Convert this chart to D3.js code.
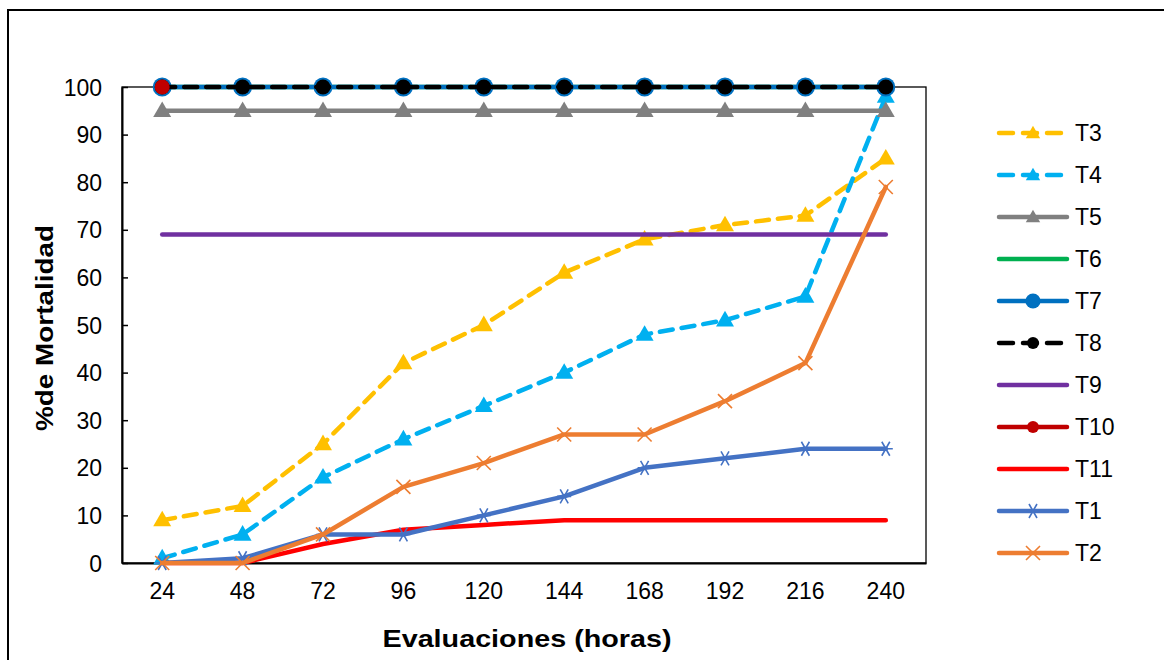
<!DOCTYPE html>
<html>
<head>
<meta charset="utf-8">
<script src="https://cdn.jsdelivr.net/npm/d3@7"></script>
<style>
  body { margin: 0; background: #fff; }
  text { font-family: "Liberation Sans", Arial, sans-serif; }
</style>
</head>
<body>
<div id="chart"></div>
<script>
var horas = ['24', '48', '72', '96', '120', '144', '168', '192', '216', '240'];
var yTicks = [0, 10, 20, 30, 40, 50, 60, 70, 80, 90, 100];

var t3  = [9, 12, 25, 42, 50, 61, 68, 71, 73, 85];
var t4  = [1, 6, 18, 26, 33, 40, 48, 51, 56, 98];
var t5  = [95, 95, 95, 95, 95, 95, 95, 95, 95, 95];
var t6  = [100, 100, 100, 100, 100, 100, 100, 100, 100, 100];
var t7  = [100, 100, 100, 100, 100, 100, 100, 100, 100, 100];
var t8  = [100, 100, 100, 100, 100, 100, 100, 100, 100, 100];
var t9  = [69, 69, 69, 69, 69, 69, 69, 69, 69, 69];
var t10 = [100, null, null, null, null, null, null, null, null, null];
var t11 = [0, 0, 4, 7, 8, 9, 9, 9, 9, 9];
var t1  = [0, 1, 6, 6, 10, 14, 20, 22, 24, 24];
var t2  = [0, 0, 6, 16, 21, 27, 27, 34, 42, 79];

var series = [
  { name: 'T3',  values: t3,  color: '#FFC000', dash: '13,9', marker: 'triangle' },
  { name: 'T4',  values: t4,  color: '#00B0F0', dash: '13,9', marker: 'triangle' },
  { name: 'T5',  values: t5,  color: '#808080', dash: null,   marker: 'triangle' },
  { name: 'T6',  values: t6,  color: '#00B050', dash: null,   marker: null },
  { name: 'T7',  values: t7,  color: '#0070C0', dash: null,   marker: 'circleBig' },
  { name: 'T8',  values: t8,  color: '#000000', dash: '13,9', marker: 'circle' },
  { name: 'T9',  values: t9,  color: '#7030A0', dash: null,   marker: null },
  { name: 'T10', values: t10, color: '#C00000', dash: null,   marker: 'circle' },
  { name: 'T11', values: t11, color: '#FF0000', dash: null,   marker: null },
  { name: 'T1',  values: t1,  color: '#4472C4', dash: null,   marker: 'star' },
  { name: 'T2',  values: t2,  color: '#ED7D31', dash: null,   marker: 'cross' }
];

var width = 1164, height = 660;
var plotL = 122, plotR = 926, plotT = 87, plotB = 563;

var svg = d3.select('#chart')
  .append('svg')
  .attr('width', width)
  .attr('height', height);

svg.append('rect')
  .attr('x', 0).attr('y', 0)
  .attr('width', width).attr('height', height)
  .attr('fill', '#fff');

// outer chart frame
svg.append('rect')
  .attr('x', 8).attr('y', 10)
  .attr('width', 1200).attr('height', 700)
  .attr('fill', 'none')
  .attr('stroke', '#000')
  .attr('stroke-width', 2);

var x = d3.scaleBand().domain(horas).range([plotL, plotR]);
var y = d3.scaleLinear().domain([0, 100]).range([plotB, plotT]);

// plot area border
svg.append('rect')
  .attr('x', plotL).attr('y', plotT)
  .attr('width', plotR - plotL).attr('height', plotB - plotT)
  .attr('fill', 'none')
  .attr('stroke', '#000')
  .attr('stroke-width', 1.3);

// y axis
var yAxis = svg.append('g')
  .attr('transform', 'translate(' + plotL + ',0)')
  .call(d3.axisLeft(y).tickValues(yTicks).tickSizeInner(-6).tickSizeOuter(0).tickPadding(20));
yAxis.select('.domain').attr('stroke', '#000').attr('stroke-width', 2);
yAxis.selectAll('line').attr('stroke', '#000').attr('stroke-width', 1.5);
yAxis.selectAll('text').style('font-size', '23px').attr('fill', '#000').attr('dy', '0.35em');

// x axis
var xAxis = svg.append('g')
  .attr('transform', 'translate(0,' + plotB + ')')
  .call(d3.axisBottom(x).tickSize(0).tickPadding(20));
xAxis.select('.domain').attr('stroke', '#000').attr('stroke-width', 2);
xAxis.selectAll('text').style('font-size', '23px').attr('fill', '#000');

svg.append('text')
  .attr('x', 527).attr('y', 647)
  .attr('text-anchor', 'middle')
  .attr('textLength', 289)
  .attr('lengthAdjust', 'spacingAndGlyphs')
  .style('font-size', '24px').style('font-weight', 'bold')
  .text('Evaluaciones (horas)');

svg.append('text')
  .attr('transform', 'translate(53,328) rotate(-90)')
  .attr('text-anchor', 'middle')
  .attr('textLength', 206)
  .attr('lengthAdjust', 'spacingAndGlyphs')
  .style('font-size', '23px').style('font-weight', 'bold')
  .text('%de Mortalidad');

var line = d3.line()
  .defined(d => d.v != null)
  .x(d => x(d.h) + x.bandwidth() / 2)
  .y(d => y(d.v));

function drawMarker(g, s, cx, cy, k) {
  k = k || 1;
  if (s.marker == 'triangle') {
    g.append('path')
      .attr('d', d3.symbol().type(d3.symbolTriangle).size(140 * k * k)())
      .attr('transform', 'translate(' + cx + ',' + (cy + 1) + ')')
      .attr('fill', s.color);
  } else if (s.marker == 'circleBig') {
    g.append('circle').attr('cx', cx).attr('cy', cy).attr('r', 9.5 * k).attr('fill', s.color);
  } else if (s.marker == 'circle') {
    g.append('circle').attr('cx', cx).attr('cy', cy).attr('r', 7.5 * k).attr('fill', s.color);
  } else if (s.marker == 'star') {
    g.append('path')
      .attr('d', 'M' + (cx - 7) + ',' + cy + 'H' + (cx + 7) +
                 'M' + (cx - 4) + ',' + (cy - 7) + 'L' + (cx + 4) + ',' + (cy + 7) +
                 'M' + (cx + 4) + ',' + (cy - 7) + 'L' + (cx - 4) + ',' + (cy + 7))
      .attr('stroke', s.color).attr('stroke-width', 1.6).attr('fill', 'none');
  } else if (s.marker == 'cross') {
    g.append('path')
      .attr('d', 'M' + (cx - 7) + ',' + (cy - 7) + 'L' + (cx + 7) + ',' + (cy + 7) +
                 'M' + (cx + 7) + ',' + (cy - 7) + 'L' + (cx - 7) + ',' + (cy + 7))
      .attr('stroke', s.color).attr('stroke-width', 1.6).attr('fill', 'none');
  }
}

var plot = svg.append('g');
series.forEach(s => {
  var pts = s.values.map((v, i) => ({ h: horas[i], v: v }));
  var g = plot.append('g');
  g.append('path')
    .datum(pts)
    .attr('d', line)
    .attr('fill', 'none')
    .attr('stroke', s.color)
    .attr('stroke-width', 4.5)
    .attr('stroke-linecap', 'round')
    .attr('stroke-linejoin', 'round')
    .attr('stroke-dasharray', s.dash);
  pts.filter(d => d.v != null).forEach(d => {
    drawMarker(g, s, x(d.h) + x.bandwidth() / 2, y(d.v));
  });
});

// legend
var legend = svg.append('g');
series.forEach((s, i) => {
  var ly = 133 + i * 42;
  var g = legend.append('g');
  g.append('line')
    .attr('x1', 999).attr('x2', 1067)
    .attr('y1', ly).attr('y2', ly)
    .attr('stroke', s.color)
    .attr('stroke-width', 4.5)
    .attr('stroke-linecap', 'round')
    .attr('stroke-dasharray', s.dash ? '14,10' : null);
  drawMarker(g, s, 1033, ly, 0.8);
  g.append('text')
    .attr('x', 1075).attr('y', ly + 8)
    .style('font-size', '23px')
    .text(s.name);
});
</script>
</body>
</html>
